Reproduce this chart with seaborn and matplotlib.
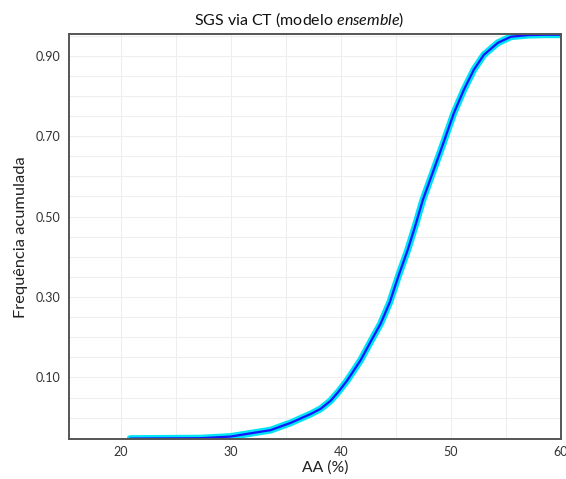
import pandas as pd
import matplotlib.pyplot as plt
import seaborn as sns
from matplotlib.ticker import MultipleLocator, FixedLocator

# valores (curva media das realizacoes)
aa_pct = [20.86, 27.23, 29.96, 31.78, 33.61, 35.43, 37.25, 38.16, 39.07,
          39.80, 40.59, 41.80, 42.71, 43.62, 44.45, 45.26, 46.08, 46.81,
          47.45, 48.27, 49.09, 50.27, 51.18, 52.09, 53.00, 54.28, 55.46,
          57.01, 58.65, 60.0]
freq_acum = [-0.052, -0.051, -0.047, -0.039, -0.031, -0.013, 0.009, 0.022,
             0.042, 0.065, 0.093, 0.143, 0.189, 0.234, 0.287, 0.354, 0.417,
             0.481, 0.541, 0.603, 0.665, 0.757, 0.815, 0.865, 0.902, 0.932,
             0.947, 0.951, 0.952, 0.952]
x_ticks = [20, 30, 40, 50, 60]
y_ticks = [0.10, 0.30, 0.50, 0.70, 0.90]

df = pd.DataFrame({"AA": aa_pct, "freq": freq_acum})

sns.set_theme(style="white")
plt.rcParams["font.family"] = ["Lato", "DejaVu Sans"]
plt.rcParams["mathtext.fontset"] = "custom"
plt.rcParams["mathtext.rm"] = "Lato"
plt.rcParams["mathtext.it"] = "Lato:italic"

fig = plt.figure(figsize=(5.66, 4.79), dpi=100)
ax = fig.add_axes([0.1219, 0.0835, 0.8691, 0.8449])

# realizacoes (faixa ciano) e media (azul)
sns.lineplot(data=df, x="AA", y="freq", color="#00E5F5", lw=5.0, ax=ax,
             sort=False, solid_joinstyle="round", solid_capstyle="round")
sns.lineplot(data=df, x="AA", y="freq", color="#1414FF", lw=1.6, ax=ax,
             sort=False, solid_joinstyle="round")

ax.set_xlim(15.3, 60)
ax.set_ylim(-0.053, 0.953)
ax.xaxis.set_major_locator(FixedLocator(x_ticks))
ax.xaxis.set_minor_locator(MultipleLocator(5))
ax.yaxis.set_major_locator(FixedLocator(y_ticks))
ax.yaxis.set_minor_locator(MultipleLocator(0.05))
ax.set_yticklabels([f"{v:.2f}" for v in y_ticks])
ax.grid(which="both", color="#eeeeee", lw=0.8)
ax.set_axisbelow(True)
ax.tick_params(which="both", length=0, labelsize=9, colors="#333333")
ax.tick_params(axis="y", pad=6)
ax.tick_params(axis="x", pad=5)

for s in ax.spines.values():
    s.set_color("#555555")
    s.set_linewidth(1.4)

ax.set_title("SGS via CT (modelo $\\mathit{ensemble}$)", fontsize=11.5,
             color="#111111", pad=7, x=0.467)
ax.set_xlabel("AA (%)", fontsize=11.3, color="#222222", labelpad=2, x=0.52)
ax.set_ylabel("Frequência acumulada", fontsize=11.8, color="#222222", labelpad=6)

fig.savefig("out.png", dpi=100)
